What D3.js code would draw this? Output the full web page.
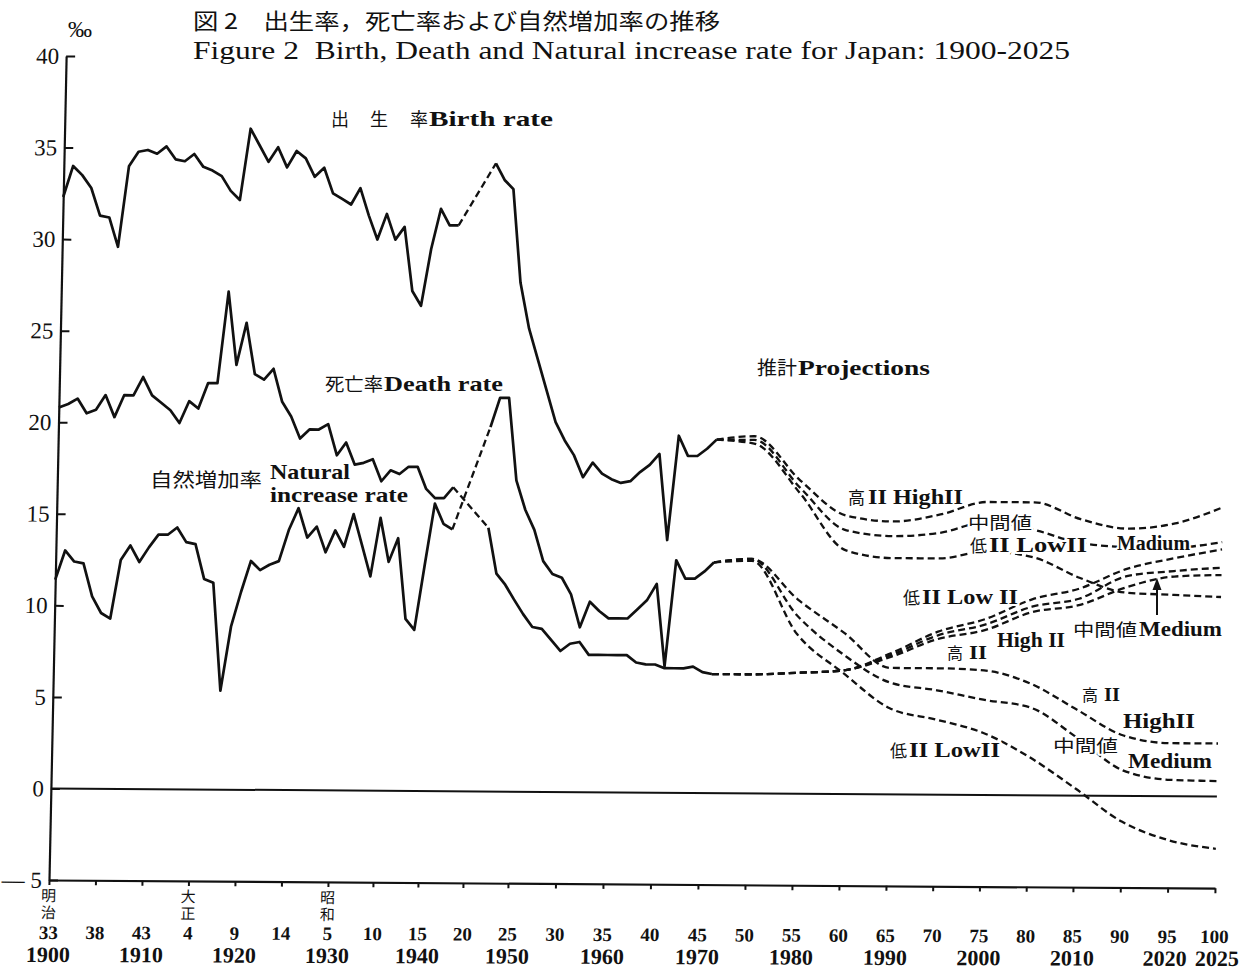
<!DOCTYPE html>
<html><head><meta charset="utf-8">
<script src="https://cdn.jsdelivr.net/npm/d3@7/dist/d3.min.js"></script>
<style>
html,body{margin:0;padding:0;background:#fff;}
svg{display:block;}
text{white-space:pre;}
</style></head><body>
<svg id="chart" width="1254" height="970"></svg>
<script>
// ---------- data (‰) ----------
const yearsA = d3.range(1900, 1944);          // 1900–1943, annual
const yearsB = d3.range(1947, 1972);          // 1947–1971, annual
const projYears = [1971,1975,1980,1985,1990,1995,2000,2005,2010,2015,2020,2025];

const birthA = [32.3,34.0,33.5,32.8,31.3,31.2,29.6,34.0,34.8,34.9,
                34.7,35.1,34.4,34.3,34.7,34.0,33.8,33.5,32.7,32.2,
                36.1,35.2,34.3,35.1,34.0,34.9,34.5,33.5,34.0,32.6,
                32.3,32.0,32.9,31.4,30.1,31.5,30.1,30.8,27.3,26.5,
                29.6,31.8,30.9,30.9];
const deathA = [20.8,21.0,21.3,20.5,20.7,21.5,20.3,21.5,21.5,22.5,
                21.5,21.1,20.7,20.0,21.2,20.8,22.2,22.2,27.2,23.2,
                25.5,22.7,22.4,23.0,21.2,20.4,19.2,19.7,19.7,20.0,
                18.3,19.0,17.8,17.9,18.1,16.9,17.5,17.3,17.7,17.7,
                16.5,16.0,16.0,16.6];
const naturalA = [11.4,13.0,12.4,12.3,10.5,9.6,9.3,12.5,13.3,12.4,
                  13.2,13.9,13.9,14.3,13.5,13.4,11.5,11.3,5.4,8.9,
                  10.8,12.5,12.0,12.3,12.5,14.2,15.4,13.8,14.4,13.0,
                  14.2,13.3,15.1,13.4,11.7,14.9,12.5,13.8,9.4,8.8,
                  12.3,15.7,14.6,14.3];

const birthB = [34.3,33.4,32.9,27.8,25.3,23.6,21.9,20.2,19.2,18.4,
                17.2,18.0,17.4,17.1,16.9,17.0,17.5,17.9,18.5,13.8,
                19.5,18.4,18.4,18.8,19.3];
const deathB = [14.4,11.9,11.3,10.5,9.7,9.0,8.9,8.3,7.7,8.1,
                8.2,7.5,7.5,7.5,7.5,7.5,7.1,7.0,7.0,6.8,
                6.8,6.8,6.9,6.6,6.5];
const naturalB = [19.9,21.5,21.5,17.0,15.4,14.3,12.6,11.9,11.7,10.8,
                  9.0,10.4,9.9,9.5,9.5,9.5,10.0,10.5,11.4,6.9,
                  12.7,11.7,11.7,12.1,12.6];

// projections (推計)
const birthHigh = [19.3,19.5,17.1,15.2,14.9,15.3,16.0,16.0,15.1,14.6,14.9,15.8];
const birthMed  = [19.3,19.3,16.7,14.4,14.1,14.3,14.9,14.5,13.8,13.6,13.6,13.9];
const birthLow  = [19.3,19.1,16.4,13.3,12.9,12.9,13.3,13.0,11.9,11.1,11.0,10.9];
const deathLow  = [6.5,6.5,6.6,6.75,7.7,8.9,9.6,10.7,11.3,12.4,13.0,13.5];
const deathMed  = [6.5,6.5,6.6,6.75,7.6,8.7,9.3,10.3,10.75,12.0,12.3,12.5];
const deathHigh = [6.5,6.5,6.6,6.75,7.5,8.5,9.0,10.0,10.4,11.4,12.0,12.1];
const naturalHigh = [12.6,12.8,10.6,8.8,6.9,6.9,6.8,6.1,4.7,3.3,2.9,2.9];
const naturalMed  = [12.6,12.8,9.7,7.6,6.1,5.7,5.2,4.8,3.2,1.4,0.9,0.85];
const naturalLow  = [12.6,12.7,8.7,6.6,4.7,4.1,3.4,2.1,0.4,-1.4,-2.4,-2.85];

// axis ticks / labels
const yTicks = [-5,0,5,10,15,20,25,30,35,40];
const eraTicks = d3.range(1900, 2026, 5);
const eraLabels = ['33','38','43','4','9','14','5','10','15','20','25','30','35','40',
                   '45','50','55','60','65','70','75','80','85','90','95','100'];
const yearTicks = [1900,1910,1920,1930,1940,1950,1960,1970,1980,1990,2000,2010,2020,2025];
const eraNameYears = [1900,1915,1930];
const eraNames = ['明治','大正','昭和'];

// ---------- drawing ----------
const fSerif = "'Liberation Serif','DejaVu Serif',serif";
const fJP = "'Noto Sans CJK JP','Noto Sans CJK SC',sans-serif";
const INK = '#111';
const svg = d3.select('#chart');
svg.append('rect').attr('width',1254).attr('height',970).attr('fill','#fff');

// the printed time axis is slightly uneven; follow its tick spacing
const x = d3.scaleLinear()
  .domain([1900, 1930, 1950, 1970, 1990, 2010, 2025])
  .range([49, 328, 508, 698, 886, 1073, 1215]);
const y = d3.scaleLinear().domain([-5, 40]).range([880, 56]);

// slight skew/tilt of the scanned original
const SHEAR = -0.0208, TILT = 0.007;
const plot = svg.append('g')
  .attr('transform', `matrix(1,${TILT},${SHEAR},1,${-SHEAR*880},${-TILT*49})`);
const labelsG = svg.append('g')
  .attr('transform', `matrix(1,0.0035,${SHEAR},1,${-SHEAR*880},${-0.0035*49})`);

// y axis
const yAxis = d3.axisLeft(y).tickValues(yTicks).tickSizeInner(-9).tickSizeOuter(0)
  .tickPadding(7).tickFormat(d => d < 0 ? '— 5' : String(d));
const gy = plot.append('g').attr('transform', `translate(${x(1900)},0)`).call(yAxis);
gy.select('.domain').attr('stroke', INK).attr('stroke-width', 2.2);
gy.selectAll('.tick line').attr('stroke', INK).attr('stroke-width', 2);
gy.selectAll('.tick text').attr('font-family', fSerif).attr('font-size', 23).attr('fill', INK);

// x axis: ticks
const xAxis = d3.axisBottom(x).tickValues(eraTicks).tickSizeInner(5).tickSizeOuter(0)
  .tickFormat('');
const gx = plot.append('g').attr('transform', `translate(0,${y(-5)})`).call(xAxis);
gx.select('.domain').attr('stroke', INK).attr('stroke-width', 2.2);
gx.selectAll('.tick line').attr('stroke', INK).attr('stroke-width', 2);

// era-year labels
const xAxisEra = d3.axisBottom(x).tickValues(eraTicks).tickSize(0)
  .tickFormat((d, i) => eraLabels[i]);
const gxe = labelsG.append('g').attr('transform', `translate(0,${y(-5)})`).call(xAxisEra);
gxe.select('.domain').remove();
gxe.selectAll('.tick text').attr('y', 59).attr('dy', null)
  .attr('font-family', fSerif).attr('font-weight', 'bold').attr('font-size', 19).attr('fill', INK);

// Western year labels
const xAxis2 = d3.axisBottom(x).tickValues(yearTicks).tickSize(0).tickFormat(d => String(d));
const gx2 = labelsG.append('g').attr('transform', `translate(0,${y(-5)})`).call(xAxis2);
gx2.select('.domain').remove();
gx2.selectAll('.tick text').attr('y', 82).attr('dy', null)
  .attr('dx', d => d === 2025 ? 3 : (d === 2020 ? -2 : 0))
  .attr('font-family', fSerif).attr('font-weight', 'bold').attr('font-size', 22).attr('fill', INK);

// era names (vertical)
eraNameYears.forEach((yr, i) => {
  [...eraNames[i]].forEach((ch, j) => {
    plot.append('text').attr('x', x(yr)).attr('y', y(-5) + 21 + j * 17)
      .attr('text-anchor', 'middle').attr('font-family', fJP).attr('font-size', 15)
      .attr('fill', INK).text(ch);
  });
});

// zero line
plot.append('line').attr('x1', x(1900)).attr('x2', x(2025)).attr('y1', y(0)).attr('y2', y(0))
  .attr('stroke', INK).attr('stroke-width', 2);

const lineLin = d3.line().x(d => x(d[0])).y(d => y(d[1]));
const lineSm = d3.line().x(d => x(d[0])).y(d => y(d[1])).curve(d3.curveMonotoneX);
function draw(pts, dashed, smooth) {
  plot.append('path').attr('d', (smooth ? lineSm : lineLin)(pts))
    .attr('fill', 'none').attr('stroke', INK)
    .attr('stroke-width', dashed ? 2.3 : 2.7)
    .attr('stroke-dasharray', dashed ? '7,4' : null)
    .attr('stroke-linejoin', 'round').attr('stroke-linecap', 'butt');
}
const zip = (yrs, vals) => yrs.map((yr, i) => [yr, vals[i]]);

[[birthA, birthB], [deathA, deathB], [naturalA, naturalB]].forEach(([a, b]) => {
  draw(zip(yearsA, a), false, false);
  draw([[yearsA[yearsA.length - 1], a[a.length - 1]], [yearsB[0], b[0]]], true, false);
  draw(zip(yearsB, b), false, false);
});
[birthHigh, birthMed, birthLow, deathLow, deathMed, deathHigh, naturalHigh, naturalMed, naturalLow]
  .forEach(s => draw(zip(projYears, s), true, true));

// ---------- text annotations ----------
const ann = svg.append('g');
function txt(px, py, s, o = {}) {
  const t = ann.append('text').attr('x', px).attr('y', py).text(s)
    .attr('font-family', o.jp ? fJP : fSerif)
    .attr('font-size', o.size || 20)
    .attr('font-weight', o.bold ? 'bold' : 'normal')
    .attr('fill', INK);
  if (o.len) t.attr('textLength', o.len).attr('lengthAdjust', 'spacingAndGlyphs');
  if (o.halo) t.attr('stroke', '#fff').attr('stroke-width', 4).attr('paint-order', 'stroke')
                .attr('stroke-linejoin', 'round');
  return t;
}
// titles
txt(193, 29, '図 2　出生率，死亡率および自然増加率の推移', {jp: true, size: 22, len: 527});
txt(193, 59, 'Figure 2  Birth, Death and Natural increase rate for Japan: 1900-2025', {size: 25, len: 877});
txt(68, 37, '‰', {size: 24, len: 24});

// series labels
txt(331, 126, '出', {jp: true, size: 18});
txt(370, 126, '生', {jp: true, size: 18});
txt(410, 126, '率', {jp: true, size: 18});
txt(429, 126, 'Birth rate', {size: 21, bold: true, len: 124});

txt(325, 391, '死亡率', {jp: true, size: 18, len: 58, halo: true});
txt(384, 391, 'Death rate', {size: 21, bold: true, len: 119, halo: true});

txt(150, 487, '自然増加率', {jp: true, size: 19, len: 112});
txt(270, 479, 'Natural', {size: 21, bold: true, len: 80, halo: true});
txt(270, 502, 'increase rate', {size: 21, bold: true, len: 138, halo: true});

txt(757, 375, '推計', {jp: true, size: 19, len: 40});
txt(798, 375, 'Projections', {size: 21, bold: true, len: 132});

// birth projections
txt(848, 504, '高', {jp: true, size: 17, halo: true});
txt(868, 504, 'II HighII', {size: 20, bold: true, len: 95, halo: true});
txt(968, 529, '中間値', {jp: true, size: 17, len: 64, halo: true});
txt(970, 552, '低', {jp: true, size: 17, halo: true});
txt(989, 552, 'II LowII', {size: 20, bold: true, len: 98, halo: true});
txt(1117, 550, 'Madium', {size: 20, bold: true, len: 73, halo: true});

// death projections
txt(903, 604, '低', {jp: true, size: 17, halo: true});
txt(922, 604, 'II Low II', {size: 20, bold: true, len: 96, halo: true});
txt(1073, 636, '中間値', {jp: true, size: 17, len: 64, halo: true});
txt(1139, 636, 'Medium', {size: 20, bold: true, len: 83, halo: true});
txt(997, 647, 'High II', {size: 20, bold: true, len: 68, halo: true});
txt(947, 659, '高', {jp: true, size: 16, halo: true});
txt(969, 659, 'II', {size: 19, bold: true, len: 18, halo: true});

// natural increase projections
txt(1082, 701, '高', {jp: true, size: 16, halo: true});
txt(1104, 701, 'II', {size: 19, bold: true, len: 16, halo: true});
txt(1123, 728, 'HighII', {size: 20, bold: true, len: 72, halo: true});
txt(1053, 752, '中間値', {jp: true, size: 17, len: 65, halo: true});
txt(1128, 768, 'Medium', {size: 20, bold: true, len: 84, halo: true});
txt(890, 757, '低', {jp: true, size: 17, halo: true});
txt(909, 757, 'II LowII', {size: 20, bold: true, len: 91, halo: true});

// arrow to medium death projection
ann.append('line').attr('x1', 1157).attr('x2', 1157).attr('y1', 615).attr('y2', 586)
  .attr('stroke', INK).attr('stroke-width', 2);
ann.append('path').attr('d', 'M1157,578 L1152.5,590 L1161.5,590 Z').attr('fill', INK);
</script>
</body></html>
